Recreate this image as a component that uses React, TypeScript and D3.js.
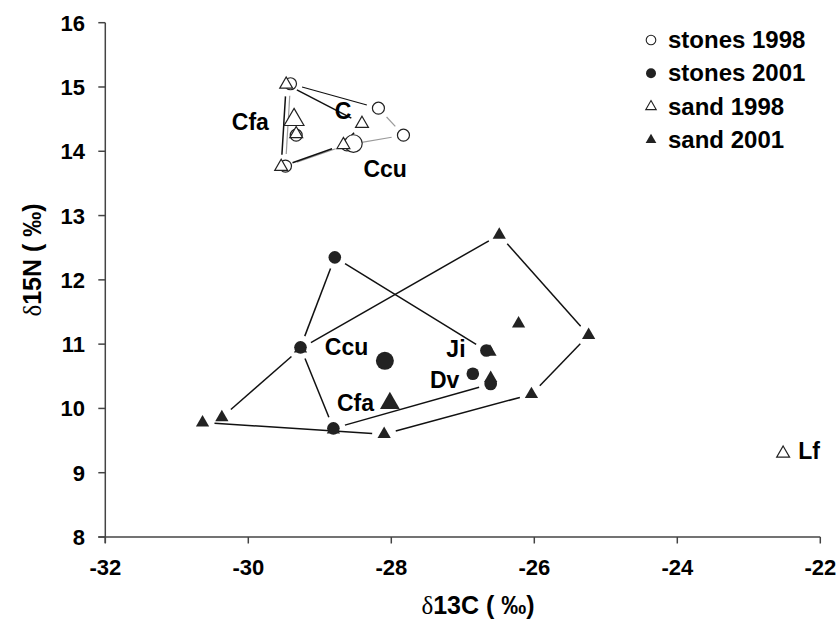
import React from "react";
import * as d3 from "d3";

// ---- data (δ13C, δ15N) ----
const stones1998X = [-29.41, -28.18, -27.83, -28.62, -29.48, -29.33];
const stones1998Y = [15.05, 14.67, 14.25, 14.1, 13.77, 14.25];
const sand1998X = [-29.47, -28.41, -28.67, -29.54, -29.33];
const sand1998Y = [15.04, 14.43, 14.1, 13.76, 14.27];
const stones2001X = [-28.79, -29.27, -28.81, -26.61, -26.67, -26.86];
const stones2001Y = [12.35, 10.95, 9.69, 10.38, 10.9, 10.54];
const sand2001X = [-30.64, -30.37, -29.27, -28.81, -28.1, -26.49, -26.22, -25.24, -26.62, -26.61, -26.04];
const sand2001Y = [9.78, 9.86, 10.93, 9.67, 9.6, 12.7, 11.32, 11.14, 10.88, 10.47, 10.22];

// means (large markers)
const meanNames = ["Ccu 1998", "Cfa 1998", "Ccu 2001", "Cfa 2001"];
const meanX = [-28.53, -29.36, -28.09, -28.02];
const meanY = [14.12, 14.49, 10.74, 10.08];

// isolated taxon
const lfX = [-22.52];
const lfY = [9.3];

// hull outlines (index sequences into the series)
const hullStones1998 = [0, 1, 2, 3, 4, 0];
const hullSand1998 = [0, 1, 2, 3, 0];
const hullStones2001a = [0, 1, 2, 3];
const hullStones2001b = [0, 4];
const hullSand2001 = [0, 4, 10, 7, 5, 2, 1];

// text labels (anchored at their left baseline, in data units)
const labelTexts = ["Cfa", "C", "Ccu", "Ccu", "Cfa", "Ji", "Dv", "Lf"];
const labelX = [-30.23, -28.79, -28.39, -28.93, -28.76, -27.23, -27.46, -22.31];
const labelY = [14.33, 14.5, 13.6, 10.83, 9.96, 10.8, 10.31, 9.21];

const xTicks = [-32, -30, -28, -26, -24, -22];
const yTicks = [8, 9, 10, 11, 12, 13, 14, 15, 16];
const legendLabels = ["stones 1998", "stones 2001", "sand 1998", "sand 2001"];

const W = 839;
const H = 620;
const FONT = "'Liberation Sans', Arial, Helvetica, sans-serif";
const NARROW = "'Liberation Sans Narrow', 'Liberation Sans', Arial, sans-serif";

export default function App() {
  const x = d3.scaleLinear().domain([-32, -22]).range([105.3, 820.3]);
  const y = d3.scaleLinear().domain([8, 16]).range([537, 22.7]);

  const tri = (size: number) => d3.symbol().type(d3.symbolTriangle).size(size)() as string;

  const GAP = 12;
  const seg = (xs: number[], ys: number[], idx: number[], stroke: string, sw: number, key: string, strokes?: string[]) => {
    const out: JSX.Element[] = [];
    for (let k = 0; k < idx.length - 1; k++) {
      const a = idx[k], b = idx[k + 1];
      const x1 = x(xs[a]), y1 = y(ys[a]), x2 = x(xs[b]), y2 = y(ys[b]);
      const L = Math.hypot(x2 - x1, y2 - y1);
      const ux = (x2 - x1) / L, uy = (y2 - y1) / L;
      const s = strokes ? strokes[k] : stroke;
      out.push(
        <line key={key + k} x1={x1 + ux * GAP} y1={y1 + uy * GAP} x2={x2 - ux * GAP} y2={y2 - uy * GAP}
          stroke={s} strokeWidth={sw} />
      );
    }
    return out;
  };

  const dark = "#111";
  const grey = "#9a9a9a";

  return (
    <svg width={W} height={H} style={{ position: "absolute", left: 0, top: 0, background: "#fff" }}>
      <rect width={W} height={H} fill="#fff" />
      {/* axes */}
      <g stroke="#444" strokeWidth={1.5}>
        <line x1={x(-32)} x2={x(-32)} y1={y(16)} y2={y(8) + 6} />
        <line x1={x(-32) - 7} x2={x(-22)} y1={y(8)} y2={y(8)} />
        {yTicks.map((t) => (
          <line key={"yt" + t} x1={x(-32) - 7} x2={x(-32)} y1={y(t)} y2={y(t)} />
        ))}
        {xTicks.map((t) => (
          <line key={"xt" + t} x1={x(t)} x2={x(t)} y1={y(8)} y2={y(8) + 6.5} />
        ))}
      </g>
      <g fontFamily={FONT} fontWeight="bold" fontSize={22} fill="#000">
        {yTicks.map((t) => (
          <text key={"yl" + t} x={85} y={y(t) + 8} textAnchor="end">{t}</text>
        ))}
        {xTicks.map((t) => (
          <text key={"xl" + t} x={x(t)} y={575} textAnchor="middle">{t}</text>
        ))}
      </g>
      {/* axis titles */}
      <text x={478} y={614} textAnchor="middle" fontFamily={NARROW} fontWeight="bold" fontSize={25}>
        <tspan fontFamily="'Liberation Serif', 'DejaVu Serif', serif" fontWeight="normal">δ</tspan>13C ( ‰)
      </text>
      <text transform={`translate(41,260) rotate(-90)`} textAnchor="middle" fontFamily={NARROW} fontWeight="bold" fontSize={25}>
        <tspan fontFamily="'Liberation Serif', 'DejaVu Serif', serif" fontWeight="normal">δ</tspan>15N ( ‰)
      </text>

      {/* hulls */}
      {seg(stones1998X, stones1998Y, hullStones1998, grey, 1.2, "h1", [dark, grey, grey, grey, grey])}
      {seg(sand1998X, sand1998Y, hullSand1998, dark, 1.5, "h2")}
      {seg(stones2001X, stones2001Y, hullStones2001a, dark, 1.5, "h3")}
      {seg(stones2001X, stones2001Y, hullStones2001b, dark, 1.5, "h4")}
      {seg(sand2001X, sand2001Y, hullSand2001, dark, 1.5, "h5")}

      {/* 1998 stones: open circles */}
      {stones1998X.map((v, i) => (
        <circle key={"s98" + i} cx={x(v)} cy={y(stones1998Y[i])} r={6} fill="#fff" stroke="#222" strokeWidth={1.2} />
      ))}
      <circle cx={x(meanX[0])} cy={y(meanY[0])} r={8.8} fill="#fff" stroke="#222" strokeWidth={1.2} />
      {/* 1998 sand: open triangles */}
      {sand1998X.map((v, i) => (
        <path key={"d98" + i} d={tri(72)} transform={`translate(${x(v)},${y(sand1998Y[i])})`} fill="#fff" stroke="#222" strokeWidth={1.2} />
      ))}
      <path d={tri(170)} transform={`translate(${x(meanX[1])},${y(meanY[1])})`} fill="#fff" stroke="#222" strokeWidth={1.2} />
      {lfX.map((v, i) => (
        <path key={"lf" + i} d={tri(72)} transform={`translate(${x(v)},${y(lfY[i])})`} fill="#fff" stroke="#222" strokeWidth={1.2} />
      ))}

      {/* 2001 stones: filled circles */}
      {stones2001X.map((v, i) => (
        <circle key={"s01" + i} cx={x(v)} cy={y(stones2001Y[i])} r={6.3} fill="#222" />
      ))}
      <circle cx={x(meanX[2])} cy={y(meanY[2])} r={9} fill="#222" />
      {/* 2001 sand: filled triangles */}
      {sand2001X.map((v, i) => (
        <path key={"d01" + i} d={tri(76)} transform={`translate(${x(v)},${y(sand2001Y[i])})`} fill="#222" />
      ))}
      <path d={tri(170)} transform={`translate(${x(meanX[3])},${y(meanY[3])})`} fill="#222" />

      {/* labels */}
      <g fontFamily={FONT} fontWeight="bold" fontSize={23} fill="#000">
        {labelTexts.map((t, i) => (
          <text key={"lab" + i} x={x(labelX[i])} y={y(labelY[i])}>{t}</text>
        ))}
      </g>

      {/* legend */}
      <g fontFamily={FONT} fontWeight="bold" fontSize={24}>
        {legendLabels.map((l, i) => {
          const by = 48 + i * 33.3;
          const cy = by - 8;
          const mx = 651;
          let marker;
          if (i === 0) marker = <circle cx={mx} cy={cy} r={4.8} fill="#fff" stroke="#222" strokeWidth={1.1} />;
          else if (i === 1) marker = <circle cx={mx} cy={cy} r={5} fill="#222" />;
          else if (i === 2) marker = <path d={tri(48)} transform={`translate(${mx},${cy})`} fill="#fff" stroke="#222" strokeWidth={1.1} />;
          else marker = <path d={tri(50)} transform={`translate(${mx},${cy})`} fill="#222" />;
          return (
            <g key={"lg" + i}>
              {marker}
              <text x={668} y={by}>{l}</text>
            </g>
          );
        })}
      </g>
    </svg>
  );
}
